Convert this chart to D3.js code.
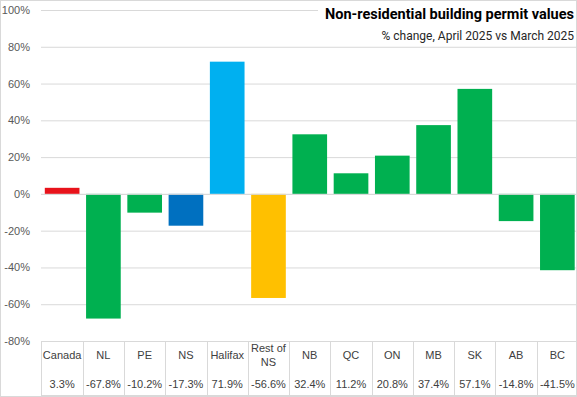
<!DOCTYPE html>
<html><head><meta charset="utf-8">
<script src="https://cdn.jsdelivr.net/npm/d3@7"></script>
<style>body{margin:0;background:#fff}svg{display:block}</style>
</head><body>
<svg id="c" width="577" height="397"></svg>
<script>
const categories = ["Canada","NL","PE","NS","Halifax","Rest of NS","NB","QC","ON","MB","SK","AB","BC"];
const values = [3.3,-67.8,-10.2,-17.3,71.9,-56.6,32.4,11.2,20.8,37.4,57.1,-14.8,-41.5];
const colors = ["#E8131B","#00B050","#00B050","#0070C0","#00B0F0","#FFC000","#00B050","#00B050","#00B050","#00B050","#00B050","#00B050","#00B050"];
const yTicks = [100,80,60,40,20,0,-20,-40,-60,-80];
const title = "Non-residential building permit values";
const subtitle = "% change, April 2025 vs March 2025";

const svg = d3.select("#c");
const W=577,H=397;
const font = "'Liberation Sans', Arial, sans-serif";
svg.append("rect").attr("x",0.5).attr("y",0.5).attr("width",W-1).attr("height",H-1).attr("fill","#fff").attr("stroke","#d9d9d9");

const x = d3.scaleBand().domain(categories).range([41.5,578]).paddingInner(0.16).paddingOuter(0.08);
const xCell = d3.scaleBand().domain(categories).range([41.5,578]);
const y = d3.scaleLinear().domain([-80,100]).range([341,10]);

// gridlines
svg.append("g").selectAll("line").data(yTicks.filter(d=>d!==-80)).join("line")
  .attr("x1",41).attr("x2",577).attr("y1",d=>y(d)+0.5).attr("y2",d=>y(d)+0.5)
  .attr("stroke","#d9d9d9").attr("stroke-width",1);

// y labels
const yAxis = d3.axisLeft(y).tickValues(yTicks).tickFormat(d=>String(d)+"%").tickSize(0).tickPadding(0);
const ga = svg.append("g").attr("transform","translate(30,0)").call(yAxis);
ga.select(".domain").remove();
ga.selectAll("text").attr("font-family",font).attr("font-size",11).attr("fill","#595959");

// bars
svg.append("g").selectAll("rect").data(categories).join("rect")
  .attr("x",d=>x(d)).attr("width",x.bandwidth())
  .attr("y",(d,i)=>y(Math.max(0,values[i])))
  .attr("height",(d,i)=>Math.abs(y(values[i])-y(0)))
  .attr("fill",(d,i)=>colors[i]);

// zero line
svg.append("line").attr("x1",41).attr("x2",577).attr("y1",y(0)+0.5).attr("y2",y(0)+0.5).attr("stroke","#d9d9d9");

// table
const tY0=341, tY1=397;
svg.append("line").attr("x1",41).attr("x2",577).attr("y1",tY0+0.5).attr("y2",tY0+0.5).attr("stroke","#d9d9d9");
svg.append("line").attr("x1",41).attr("x2",577).attr("y1",tY1-1.5).attr("y2",tY1-1.5).attr("stroke","#d9d9d9");
svg.append("g").selectAll("line").data(categories.slice(1)).join("line")
  .attr("x1",d=>Math.round(xCell(d))+0.5).attr("x2",d=>Math.round(xCell(d))+0.5)
  .attr("y1",tY0).attr("y2",tY1).attr("stroke","#d9d9d9");
svg.append("line").attr("x1",41.5).attr("x2",41.5).attr("y1",tY0).attr("y2",tY1).attr("stroke","#d9d9d9");

const cats = svg.append("g").selectAll("text").data(categories).join("text")
  .attr("x",d=>xCell(d)+xCell.bandwidth()/2).attr("text-anchor","middle")
  .attr("font-family",font).attr("font-size",11).attr("fill","#404040");
cats.each(function(d){
  const t=d3.select(this);
  if(d==="Rest of NS"){
    t.append("tspan").attr("x",xCell(d)+xCell.bandwidth()/2).attr("y",352).text("Rest of");
    t.append("tspan").attr("x",xCell(d)+xCell.bandwidth()/2).attr("y",366).text("NS");
  } else { t.attr("y",359).text(d); }
});
svg.append("g").selectAll("text").data(categories).join("text")
  .attr("x",d=>xCell(d)+xCell.bandwidth()/2).attr("y",388).attr("text-anchor","middle")
  .attr("font-family",font).attr("font-size",11).attr("fill","#404040")
  .text((d,i)=>values[i].toFixed(1)+"%");

// title
svg.append("rect").attr("x",318).attr("y",3).attr("width",258).attr("height",43).attr("fill","#fff");
svg.append("text").attr("x",574).attr("y",19).attr("text-anchor","end")
  .attr("font-family","Roboto, sans-serif").attr("font-weight","bold").attr("font-size",14.5).attr("fill","#000").text(title);
svg.append("text").attr("x",574).attr("y",40).attr("text-anchor","end")
  .attr("font-family","Roboto, sans-serif").attr("font-size",12).attr("fill","#262626").text(subtitle);
</script>
</body></html>
